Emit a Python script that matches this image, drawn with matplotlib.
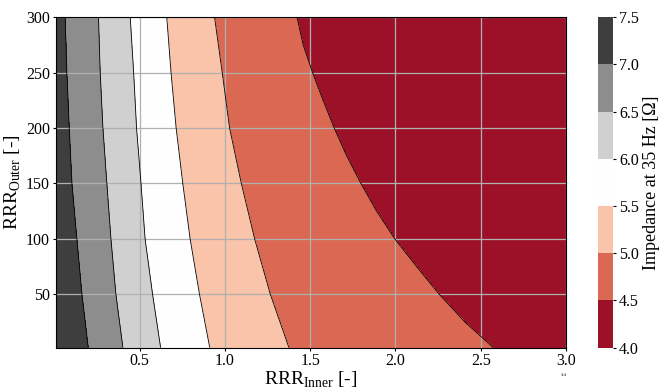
"""Impedance map over inner and outer RRR."""

import matplotlib

matplotlib.use("Agg")
import matplotlib.pyplot as plt
import numpy as np

plt.rcParams["font.family"] = ["Liberation Serif", "DejaVu Serif"]
plt.rcParams["mathtext.fontset"] = "custom"
plt.rcParams["mathtext.rm"] = "Liberation Serif"

rows_coarse = [2, 50, 100, 150, 200, 250, 300]
rows_fine = [2, 25, 50, 75, 100, 125, 150, 175, 200, 225, 250, 275, 300]

# RRR_Inner (x1e4) where each impedance level is crossed, one value per row
crossing_7_0 = [0.199, 0.162, 0.132, 0.103, 0.087, 0.073, 0.063]
crossing_6_5 = [0.402, 0.361, 0.332, 0.308, 0.285, 0.269, 0.259]
crossing_6_0 = [0.623, 0.576, 0.532, 0.508, 0.482, 0.465, 0.445]
crossing_5_5 = [0.911, 0.851, 0.796, 0.753, 0.714, 0.684, 0.659]
crossing_5_0 = [1.375, 1.266, 1.174, 1.096, 1.027, 0.984, 0.939]
crossing_4_5 = [2.574, 2.408, 2.257, 2.124, 1.996, 1.889, 1.797,
                1.713, 1.640, 1.575, 1.513, 1.458, 1.422]

crossing_levels = [7.0, 6.5, 6.0, 5.5, 5.0, 4.5]
edge_values = (7.4, 4.1)  # impedance at left / right edge of the range
rrr_inner_range = (100, 30000)
levels = [4.0, 4.5, 5.0, 5.5, 6.0, 6.5, 7.0, 7.5]

boundaries = [
    (rows_coarse, crossing_7_0),
    (rows_coarse, crossing_6_5),
    (rows_coarse, crossing_6_0),
    (rows_coarse, crossing_5_5),
    (rows_coarse, crossing_5_0),
    (rows_fine, crossing_4_5),
]

# rebuild the field row by row from the read crossings
x = np.linspace(*rrr_inner_range, 800)
y = np.linspace(rows_coarse[0], rows_coarse[-1], 400)
z = np.empty((y.size, x.size))
for i, yy in enumerate(y):
    row_cross = [np.interp(yy, ys, xs) * 1e4 for ys, xs in boundaries]
    xp = [rrr_inner_range[0]] + row_cross + [rrr_inner_range[1]]
    fp = [edge_values[0]] + crossing_levels + [edge_values[1]]
    z[i] = np.interp(x, xp, fp)

fig = plt.figure(figsize=(6.59, 3.88), dpi=100)
ax = fig.add_axes([0.085, 0.104, 0.774, 0.852])
cax = fig.add_axes([0.907, 0.104, 0.023, 0.852])

cf = ax.contourf(x, y, z, levels=levels, cmap="RdGy")
ax.contour(x, y, z, levels=levels[1:-1], colors="black", linewidths=0.6)
ax.grid(True, color="#b0b0b0", linewidth=0.9)

ax.set_xlim(*rrr_inner_range)
ax.set_ylim(rows_coarse[0], rows_coarse[-1])
ax.set_xticks([5000, 10000, 15000, 20000, 25000, 30000])
ax.set_yticks([50, 100, 150, 200, 250, 300])
ax.ticklabel_format(axis="x", style="sci", scilimits=(0, 0))
ax.xaxis.get_offset_text().set_fontsize(3)
ax.tick_params(labelsize=11.5, length=2.5, pad=2)
ax.tick_params(axis="x", pad=1.5)
ax.set_xlabel(r"RRR$_{\mathrm{Inner}}$ [-]", fontsize=14, labelpad=0)
ax.set_ylabel(r"RRR$_{\mathrm{Outer}}$ [-]", fontsize=14, labelpad=2)

cbar = fig.colorbar(cf, cax=cax)
cbar.outline.set_linewidth(0)
cbar.ax.tick_params(labelsize=11.5, length=2.5, pad=2)
cbar.set_label("Impedance at 35 Hz [Ω]", fontsize=13, labelpad=3)

fig.savefig("out.png", dpi=100)
plt.close(fig)
